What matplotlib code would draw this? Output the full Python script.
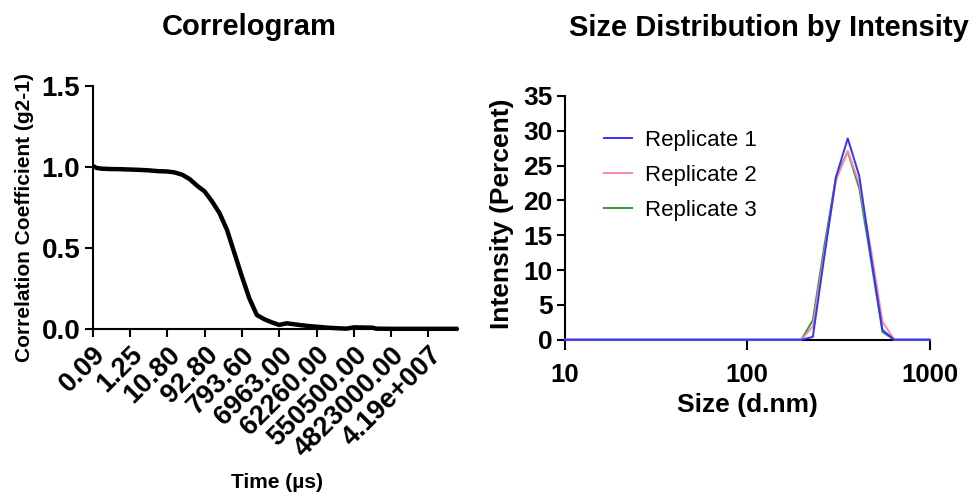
import matplotlib
matplotlib.use("Agg")
import matplotlib.pyplot as plt
from matplotlib.ticker import FixedLocator, NullLocator, FormatStrFormatter
import matplotlib.transforms as mtransforms

plt.rcParams['font.family'] = ['Liberation Sans', 'DejaVu Sans']

# ---------------- Correlogram data ----------------
# x expressed as position along the channel axis (tick index units)
corr_pos = [0.00, 0.10, 0.25, 0.50, 0.75, 1.00, 1.25, 1.50, 1.75, 2.00, 2.20, 2.40,
            2.60, 2.80, 3.00, 3.20, 3.40, 3.60, 3.80, 4.00, 4.20, 4.40, 4.60, 4.80,
            5.00, 5.20, 5.40, 5.60, 5.80, 6.00, 6.30, 6.60, 6.80, 7.00, 7.50, 7.60,
            8.00, 9.00, 9.80]
corr_val = [1.008, 0.995, 0.990, 0.988, 0.987, 0.985, 0.983, 0.980, 0.975, 0.973, 0.967, 0.953,
            0.926, 0.885, 0.850, 0.788, 0.716, 0.613, 0.469, 0.325, 0.190, 0.088, 0.062, 0.043,
            0.027, 0.037, 0.031, 0.025, 0.020, 0.016, 0.010, 0.006, 0.004, 0.012, 0.010, 0.004,
            0.003, 0.003, 0.003]
time_tick_labels = ['0.09', '1.25', '10.80', '92.80', '793.60', '6963.00',
                    '62260.00', '550500.00', '4823000.00', '4.19e+007']

# ---------------- Size distribution data ----------------
size_nm = [10, 198, 229, 265, 307, 356, 412, 477, 552, 640, 1000]
rep1 = [0, 0, 0.4, 12.0, 23.4, 28.9, 23.5, 12.0, 1.4, 0, 0]
rep2 = [0, 0, 1.9, 12.5, 22.9, 27.1, 22.4, 13.0, 2.6, 0, 0]
rep3 = [0, 0, 2.8, 13.5, 23.4, 27.0, 21.7, 11.5, 1.1, 0, 0]
rep_labels = ['Replicate 1', 'Replicate 2', 'Replicate 3']
rep_colors = ['#3333FF', '#FF88AA', '#339933']

W, H = 975, 496
fig = plt.figure(figsize=(W / 100, H / 100), dpi=100)

def fx(px):
    return px / W

def fy(py):
    return 1 - py / H

# ---------- Left: correlogram ----------
axL = fig.add_axes([fx(92.7), fy(329.3), (458.3 - 92.7) / W, (329.3 - 86) / H])
axL.plot(corr_pos, corr_val, color='black', lw=3.2, solid_capstyle='butt', clip_on=False, zorder=3)
axL.set_xlim(0, 9.8)
axL.set_ylim(0, 1.5)
axL.xaxis.set_major_locator(FixedLocator(range(len(time_tick_labels))))
axL.set_xticklabels(time_tick_labels, rotation=45, ha='right', va='top',
                    rotation_mode='anchor', fontsize=19.5, fontweight='bold')
shift = mtransforms.ScaledTranslation(4 / 100, -4 / 100, fig.dpi_scale_trans)
for lab in axL.get_xticklabels():
    lab.set_transform(lab.get_transform() + shift)
axL.yaxis.set_major_locator(FixedLocator([0, 0.5, 1.0, 1.5]))
axL.yaxis.set_major_formatter(FormatStrFormatter('%.1f'))
for lab in axL.get_yticklabels():
    lab.set_fontsize(20)
    lab.set_fontweight('bold')

# ---------- Right: size distribution ----------
axR = fig.add_axes([fx(565), fy(339.7), (929.5 - 565) / W, (339.7 - 96) / H])
for vals, lab, col in zip([rep3, rep2, rep1], rep_labels[::-1], rep_colors[::-1]):
    axR.plot(size_nm, vals, color=col, lw=1.4, label=lab, clip_on=False, zorder=3)
axR.set_xscale('log')
axR.set_xlim(10, 1000)
axR.set_ylim(0, 35)
axR.xaxis.set_major_locator(FixedLocator([10, 100, 1000]))
axR.xaxis.set_minor_locator(NullLocator())
axR.set_xticklabels(['10', '100', '1000'], fontsize=18.5, fontweight='bold')
axR.yaxis.set_major_locator(FixedLocator(range(0, 36, 5)))
for lab in axR.get_yticklabels():
    lab.set_fontsize(19)
    lab.set_fontweight('bold')

handles, labels = axR.get_legend_handles_labels()
leg = axR.legend(handles[::-1], labels[::-1], loc='upper left',
                 bbox_to_anchor=(fx(604), fy(130)), bbox_transform=fig.transFigure,
                 frameon=False, fontsize=16, handlelength=1.25, handletextpad=0.6,
                 labelspacing=0.62, borderpad=0, borderaxespad=0)
for line in leg.get_lines():
    line.set_linewidth(1.4)

for ax in (axL, axR):
    for s in ('top', 'right'):
        ax.spines[s].set_visible(False)
    for s in ('left', 'bottom'):
        ax.spines[s].set_linewidth(1.5)
        ax.spines[s].set_zorder(2)
    ax.tick_params(direction='out', length=6, width=1.5, pad=3)
axR.tick_params(axis='x', length=7, pad=10)

# ---------- Titles & axis labels ----------
fig.text(fx(249.5), fy(35), 'Correlogram', ha='center', va='baseline',
         fontsize=21, fontweight='bold')
fig.text(fx(769), fy(36), 'Size Distribution by Intensity', ha='center', va='baseline',
         fontsize=21, fontweight='bold')
fig.text(fx(25), fy(218), 'Correlation Coefficient (g2-1)', rotation=90, ha='center',
         va='center', fontsize=15, fontweight='bold')
fig.text(fx(277), fy(483), 'Time (µs)', ha='center', va='center', fontsize=15, fontweight='bold')
fig.text(fx(502), fy(214), 'Intensity (Percent)', rotation=90, ha='center', va='center',
         fontsize=19, fontweight='bold')
fig.text(fx(747.5), fy(405), 'Size (d.nm)', ha='center', va='center', fontsize=19, fontweight='bold')

fig.savefig('out.png', dpi=100)
